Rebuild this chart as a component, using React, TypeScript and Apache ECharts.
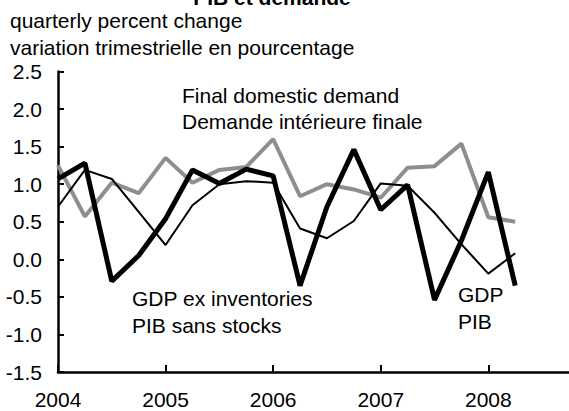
import React, { useEffect, useRef } from "react";
import * as echarts from "echarts";

const quarters = [
  "2004Q1", "2004Q2", "2004Q3", "2004Q4",
  "2005Q1", "2005Q2", "2005Q3", "2005Q4",
  "2006Q1", "2006Q2", "2006Q3", "2006Q4",
  "2007Q1", "2007Q2", "2007Q3", "2007Q4",
  "2008Q1", "2008Q2", "2008Q3", "2008Q4",
];

const finalDomesticDemand = [
  1.25, 0.57, 1.02, 0.88, 1.35, 1.02, 1.19, 1.23, 1.6,
  0.84, 1.0, 0.93, 0.82, 1.22, 1.24, 1.54, 0.56, 0.5,
];

const gdp = [
  1.07, 1.28, -0.29, 0.05, 0.54, 1.19, 1.01, 1.2, 1.11,
  -0.35, 0.7, 1.46, 0.66, 0.99, -0.54, 0.25, 1.16, -0.35,
];

const gdpExInventories = [
  0.7, 1.19, 1.07, 0.63, 0.19, 0.72, 1.0, 1.04, 1.02,
  0.41, 0.28, 0.51, 1.01, 0.98, 0.62, 0.2, -0.19, 0.08,
];

const yMin = -1.5;
const yMax = 2.5;
const yStep = 0.5;

const titleText = "PIB et demande";
const subtitleLines = ["quarterly percent change", "variation trimestrielle en pourcentage"];
const fddLabel = ["Final domestic demand", "Demande intérieure finale"];
const gdpExLabel = ["GDP ex inventories", "PIB sans stocks"];
const gdpLabel = ["GDP", "PIB"];

const FONT = 'Arial, "Liberation Sans", Helvetica, sans-serif';
const FS = 21;

function textEl(x: number, y: number, text: string, extra: any = {}) {
  return {
    type: "text",
    x,
    y,
    style: {
      text,
      fill: "#000",
      font: `${extra.bold ? "bold " : ""}${FS}px ${FONT}`,
      textAlign: extra.align || "left",
      textVerticalAlign: "middle",
    },
    silent: true,
  };
}

export default function App() {
  const ref = useRef<HTMLDivElement>(null);

  useEffect(() => {
    if (!ref.current) return;
    const chart = echarts.init(ref.current, null, { renderer: "svg" });
    const option: any = {
      animation: false,
      backgroundColor: "#fff",
      grid: { left: 58, right: 0, top: 71.5, bottom: 39, containLabel: false },
      xAxis: {
        type: "category",
        data: quarters,
        boundaryGap: false,
        axisLine: { onZero: false, lineStyle: { color: "#000", width: 2.5 } },
        axisTick: { show: true, inside: true, length: 7, interval: 3, lineStyle: { color: "#000", width: 2 } },
        axisLabel: {
          interval: 3,
          margin: 17,
          color: "#000",
          fontSize: FS,
          fontFamily: FONT,
          formatter: (v: string) => (v.endsWith("Q1") ? v.slice(0, 4) : ""),
        },
        splitLine: { show: false },
      },
      yAxis: {
        type: "value",
        min: yMin,
        max: yMax,
        interval: yStep,
        axisLine: { show: true, lineStyle: { color: "#000", width: 2.5 } },
        axisTick: { show: true, inside: true, length: 6, lineStyle: { color: "#000", width: 2 } },
        axisLabel: {
          margin: 16,
          color: "#000",
          fontSize: FS,
          fontFamily: FONT,
          formatter: (v: number) => v.toFixed(1),
        },
        splitLine: { show: false },
      },
      series: [
        {
          name: "Final domestic demand",
          type: "line",
          data: finalDomesticDemand,
          symbol: "none",
          lineStyle: { color: "#8e8e8e", width: 4 },
          z: 2,
        },
        {
          name: "GDP ex inventories",
          type: "line",
          data: gdpExInventories,
          symbol: "none",
          lineStyle: { color: "#000", width: 2 },
          z: 3,
        },
        {
          name: "GDP",
          type: "line",
          data: gdp,
          symbol: "none",
          lineStyle: { color: "#000", width: 5 },
          z: 4,
        },
      ],
      graphic: [
        textEl(272, -3, titleText, { bold: true, align: "center" }),
        textEl(10, 20, subtitleLines[0]),
        textEl(10, 47, subtitleLines[1]),
        textEl(182, 95, fddLabel[0]),
        textEl(182, 121, fddLabel[1]),
        textEl(132, 298, gdpExLabel[0]),
        textEl(132, 325, gdpExLabel[1]),
        textEl(458, 294, gdpLabel[0]),
        textEl(458, 321, gdpLabel[1]),
      ],
    };
    chart.setOption(option);
    return () => chart.dispose();
  }, []);

  return (
    <div
      ref={ref}
      style={{ position: "absolute", left: 0, top: 0, width: 569, height: 411, background: "#fff" }}
    />
  );
}
